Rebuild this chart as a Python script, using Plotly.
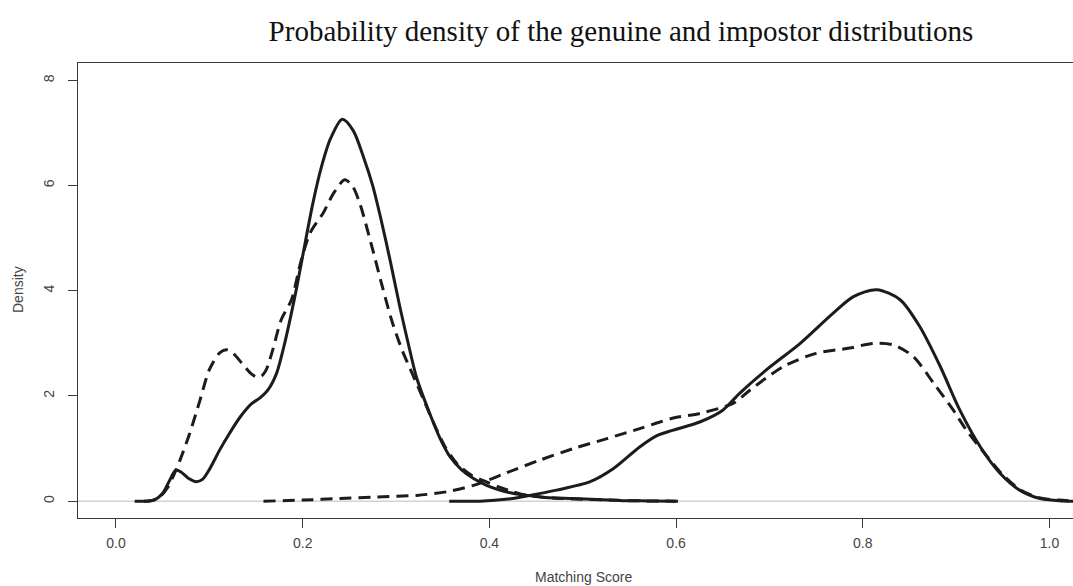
import plotly.graph_objects as go

# ---- data ----
imp1_x = [0.020, 0.035, 0.042, 0.050, 0.057, 0.064, 0.070, 0.078, 0.086, 0.093, 0.100, 0.111, 0.122,
          0.133, 0.145, 0.154, 0.163, 0.172, 0.180, 0.187, 0.194, 0.2006, 0.211, 0.220, 0.230, 0.2424,
          0.254, 0.265, 0.275, 0.284, 0.294, 0.304, 0.315, 0.322, 0.336, 0.347, 0.358, 0.370, 0.383,
          0.397, 0.411, 0.425, 0.440, 0.460, 0.490, 0.515, 0.543, 0.570, 0.602]
imp1_y = [0.0, 0.0, 0.03, 0.15, 0.38, 0.59, 0.55, 0.43, 0.37, 0.42, 0.60, 0.97, 1.30,
          1.60, 1.85, 1.96, 2.12, 2.43, 2.95, 3.50, 4.10, 4.72, 5.67, 6.35, 6.90, 7.26,
          7.05, 6.55, 6.00, 5.35, 4.55, 3.70, 2.85, 2.35, 1.67, 1.20, 0.84, 0.60, 0.43,
          0.30, 0.21, 0.15, 0.11, 0.07, 0.05, 0.03, 0.01, 0.005, 0.0]

imp2_x = [0.030, 0.040, 0.048, 0.055, 0.062, 0.0686, 0.079, 0.090, 0.100, 0.111, 0.118, 0.125, 0.135,
          0.145, 0.151, 0.156, 0.161, 0.168, 0.177, 0.188, 0.198, 0.208, 0.222, 0.233, 0.245, 0.253,
          0.261, 0.274, 0.285, 0.296, 0.307, 0.318, 0.329, 0.340, 0.352, 0.365, 0.380, 0.395, 0.410,
          0.425, 0.440, 0.460, 0.490, 0.520, 0.550, 0.600]
imp2_y = [0.0, 0.02, 0.10, 0.25, 0.50, 0.78, 1.29, 1.92, 2.50, 2.82, 2.88, 2.82, 2.62,
          2.42, 2.36, 2.38, 2.50, 2.88, 3.45, 3.83, 4.55, 5.10, 5.48, 5.85, 6.11, 6.00,
          5.67, 4.85, 4.10, 3.40, 2.85, 2.40, 1.95, 1.50, 1.05, 0.72, 0.50, 0.38, 0.27,
          0.18, 0.11, 0.07, 0.04, 0.025, 0.01, 0.0]

gen1_x = [0.357, 0.390, 0.420, 0.440, 0.472, 0.508, 0.533, 0.561, 0.580, 0.597, 0.626, 0.650, 0.668,
          0.697, 0.733, 0.768, 0.790, 0.815, 0.840, 0.861, 0.883, 0.904, 0.926, 0.947, 0.968, 0.990,
          1.010, 1.026]
gen1_y = [0.0, 0.0, 0.04, 0.10, 0.21, 0.37, 0.62, 1.03, 1.25, 1.35, 1.51, 1.73, 2.05,
          2.50, 3.00, 3.57, 3.89, 4.02, 3.83, 3.32, 2.56, 1.73, 1.03, 0.53, 0.21, 0.05,
          0.01, 0.0]

gen2_x = [0.158, 0.200, 0.240, 0.280, 0.322, 0.355, 0.383, 0.400, 0.4185, 0.454, 0.490, 0.526, 0.561,
          0.597, 0.626, 0.661, 0.679, 0.715, 0.750, 0.786, 0.811, 0.833, 0.854, 0.876, 0.897, 0.911,
          0.930, 0.950, 0.970, 0.990, 1.010, 1.030]
gen2_y = [0.0, 0.02, 0.05, 0.08, 0.11, 0.18, 0.30, 0.41, 0.54, 0.78, 1.00, 1.19, 1.38,
          1.58, 1.67, 1.86, 2.11, 2.56, 2.81, 2.91, 3.00, 2.97, 2.75, 2.24, 1.73, 1.35,
          0.92, 0.50, 0.20, 0.06, 0.02, 0.0]

x_ticks = [0.0, 0.2, 0.4, 0.6, 0.8, 1.0]
x_tick_text = ["0.0", "0.2", "0.4", "0.6", "0.8", "1.0"]
y_ticks = [0, 2, 4, 6, 8]
y_tick_text = ["0", "2", "4", "6", "8"]

title_text = "Probability density of the genuine and impostor distributions"
x_title = "Matching Score"
y_title = "Density"

# ---- figure ----
LINE = "#1c1c1c"
SANS = "Liberation Sans, Arial, sans-serif"

fig = go.Figure()
series = [
    (imp1_x, imp1_y, "solid"),
    (imp2_x, imp2_y, "12px,7px"),
    (gen1_x, gen1_y, "solid"),
    (gen2_x, gen2_y, "12px,7px"),
]
for xs, ys, dash in series:
    fig.add_trace(go.Scatter(
        x=xs, y=ys, mode="lines",
        line=dict(color=LINE, width=3, dash=dash, shape="spline", smoothing=0.8),
        showlegend=False, hoverinfo="skip",
    ))

fig.add_shape(type="line", xref="paper", yref="y", x0=0, x1=1, y0=0, y1=0,
              line=dict(color="#bdbdbd", width=1), layer="below")

fig.update_layout(
    width=1073, height=586,
    margin=dict(l=78, r=0, t=63, b=68),
    paper_bgcolor="white", plot_bgcolor="white",
    title=dict(text=title_text, x=621 / 1073, xref="container", xanchor="center",
               y=1 - 31 / 586, yref="container", yanchor="middle",
               font=dict(family="Liberation Serif, Times New Roman, serif", size=29, color="#111")),
    showlegend=False,
)

fig.update_xaxes(
    range=[-0.0407, 1.0252], tickvals=x_ticks, ticktext=x_tick_text,
    showgrid=False, zeroline=False,
    showline=True, linecolor="#3a3a3a", linewidth=1, mirror=True,
    ticks="outside", ticklen=9, tickcolor="#3a3a3a", tickwidth=1,
    ticklabelstandoff=3,
    tickfont=dict(family=SANS, size=14, color="#444"),
)
fig.update_yaxes(
    range=[-0.32, 8.33], tickvals=y_ticks, ticktext=y_tick_text,
    showgrid=False, zeroline=False,
    showline=True, linecolor="#3a3a3a", linewidth=1, mirror=False,
    ticks="outside", ticklen=9, tickcolor="#3a3a3a", tickwidth=1, tickangle=-90,
    ticklabelstandoff=8,
    tickfont=dict(family=SANS, size=14, color="#444"),
)

fig.add_annotation(text=x_title, xref="paper", yref="paper",
                   x=(583 - 78) / 995, y=(518 - 577) / 455, xanchor="center", yanchor="middle",
                   showarrow=False, font=dict(family=SANS, size=14, color="#444"))
fig.add_annotation(text=y_title, xref="paper", yref="paper", textangle=-90,
                   x=(18 - 78) / 995, y=(518 - 290) / 455, xanchor="center", yanchor="middle",
                   showarrow=False, font=dict(family=SANS, size=14, color="#444"))

fig.write_html("out.html")
